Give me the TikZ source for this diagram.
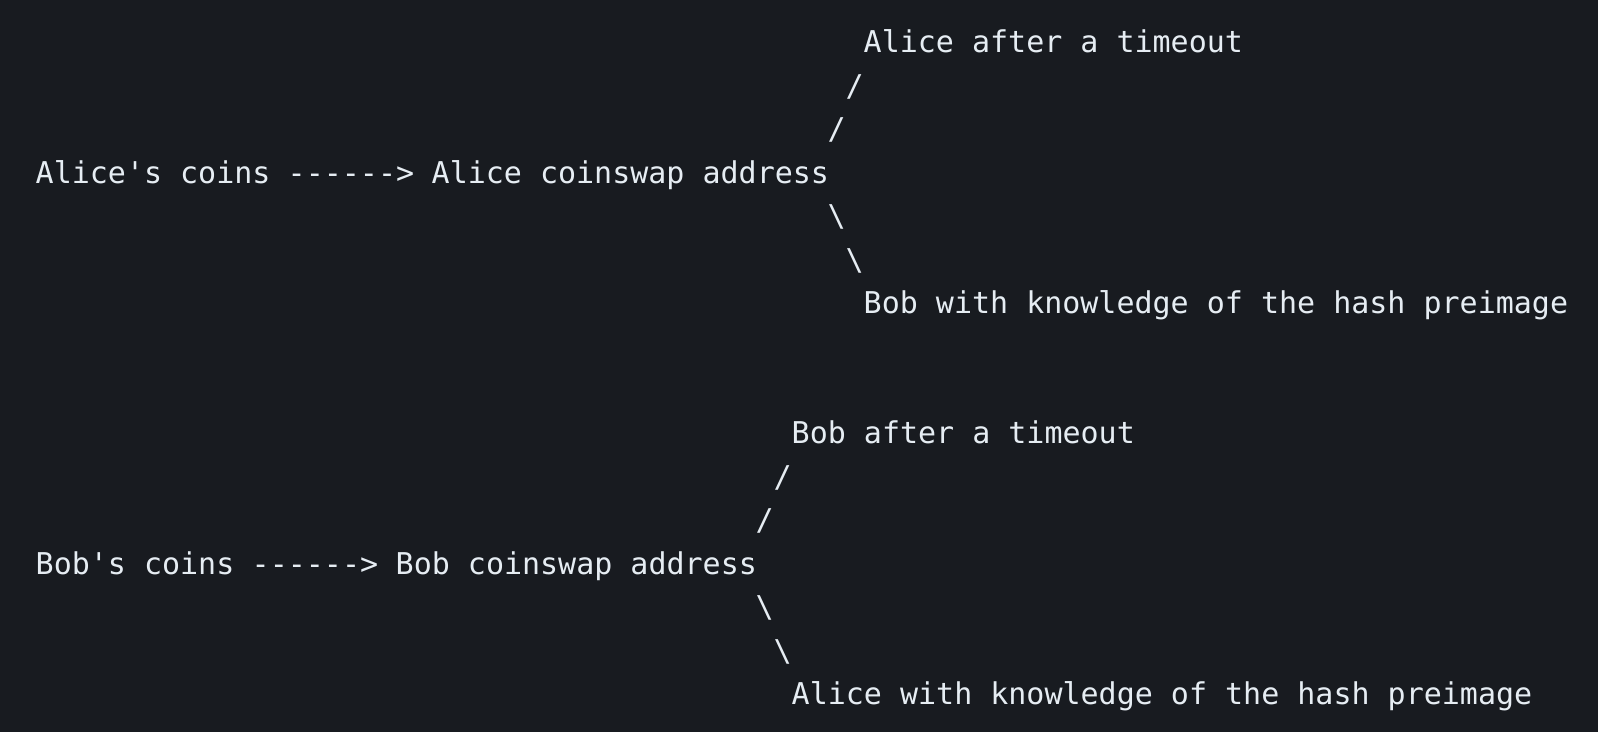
\documentclass[tikz,border=0pt]{standalone}
\usepackage{fontspec}
\setmonofont{DejaVu Sans Mono}
\usepackage{xcolor}
\definecolor{termbg}{HTML}{181B20}
\definecolor{termfg}{HTML}{E6EDF3}
\begin{document}
\begin{tikzpicture}[x=9.0pt, y=-21.72pt,
    ascii/.style={anchor=base west, inner sep=0pt, outer sep=0pt, text=termfg,
                  font=\ttfamily\fontsize{15pt}{18pt}\selectfont}]
                % background
                \fill[termbg] (-17.85pt,26.5pt) rectangle (781.15pt,-339.5pt);

                % Alice's side
                \node[ascii] (atimeout) at (46,0) {Alice after a timeout};
                \node[ascii] (aslashA) at (45,1) {/};
                \node[ascii] (aslashB) at (44,2) {/};
                \node[ascii] (acoins) at (0,3) {Alice's coins};
                \node[ascii] (aarrow) at (14,3) {------>};
                \node[ascii] (aaddr) at (22,3) {Alice coinswap address};
                \node[ascii] (abackA) at (44,4) {\textbackslash};
                \node[ascii] (abackB) at (45,5) {\textbackslash};
                \node[ascii] (bhash) at (46,6) {Bob with knowledge of the hash preimage};

                % Bob's side
                \node[ascii] (btimeout) at (42,9) {Bob after a timeout};
                \node[ascii] (bslashA) at (41,10) {/};
                \node[ascii] (bslashB) at (40,11) {/};
                \node[ascii] (bcoins) at (0,12) {Bob's coins};
                \node[ascii] (barrow) at (12,12) {------>};
                \node[ascii] (baddr) at (20,12) {Bob coinswap address};
                \node[ascii] (bbackA) at (40,13) {\textbackslash};
                \node[ascii] (bbackB) at (41,14) {\textbackslash};
                \node[ascii] (ahash) at (42,15) {Alice with knowledge of the hash preimage};

            \end{tikzpicture}
\end{document}
